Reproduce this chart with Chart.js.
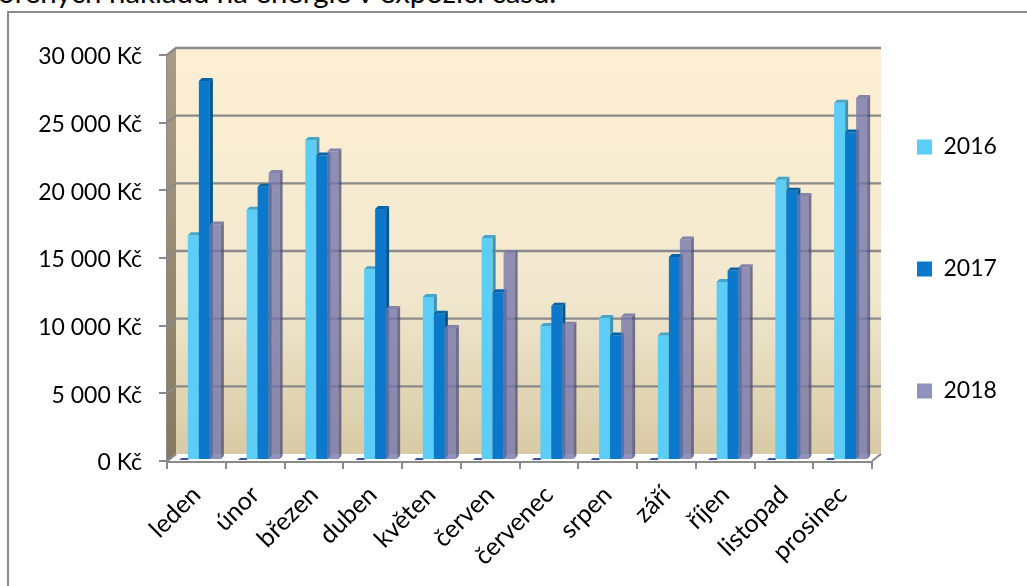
<!DOCTYPE html>
<html lang="cs">
<head>
<meta charset="utf-8">
<title>Náklady na energie</title>
<script src="https://cdn.jsdelivr.net/npm/chart.js@4/dist/chart.umd.min.js"></script>
<style>
    html, body { margin: 0; padding: 0; width: 1027px; height: 586px; overflow: hidden; background: #fff; }
    #nadpis { position: absolute; left: -2px; top: -26px; font: 29.4px Lato, sans-serif; color: #000; white-space: nowrap; }
    #ramecek { position: absolute; left: 7px; top: 11px; width: 1100px; height: 700px; border: 2px solid #8a8a8a; }
    #graf { position: absolute; left: 0; top: 0; }
</style>
</head>
<body>
<div id="nadpis">ořených nákladů na energie v expozici času.</div>
<div id="ramecek"></div>
<canvas id="graf" width="1027" height="586"></canvas>
<script>
const mesice = ["leden","únor","březen","duben","květen","červen","červenec","srpen","září","říjen","listopad","prosinec"];
const roky = ["2016","2017","2018"];
const naklady2016 = [16600,18500,23650,14100,12050,16400,9900,10500,9200,13150,20700,26400];
const naklady2017 = [28000,20200,22500,18550,10800,12400,11400,9200,15000,14000,19900,24200];
const naklady2018 = [17400,21200,22800,11150,9750,15300,10000,10600,16300,14250,19500,26750];
const barvy = ["#5ccdf6","#0b78cc","rgba(118,119,171,0.8)"];
const barvyBok = ["#3f92b4","#00578f","rgba(72,74,120,0.75)"];
const barvyVrch = ["#46a5c8","#0563a6","rgba(120,120,165,0.9)"];

const HLOUBKA_X = 9, HLOUBKA_Y = 7;   // posun zadni steny
const BAR_X = 8, BAR_Y = -1;          // sloupce stoji uprostred hloubky
const BOK = 3;
const SEDA = "#8a8a8a";

function polygon(ctx, body, barva) {
    ctx.beginPath();
    body.forEach((b, i) => i ? ctx.lineTo(b[0], b[1]) : ctx.moveTo(b[0], b[1]));
    ctx.closePath();
    ctx.fillStyle = barva;
    ctx.fill();
}

const prostor3d = {
    id: "prostor3d",
    afterLayout(chart) {
        // legenda ma velky rozestup, posunout ji na misto
        const l = chart.legend;
        l.left = 917 - l.options.labels.padding;
        l.top -= 103;
    },
    beforeDatasetsDraw(chart) {
        const {ctx, chartArea: a, scales} = chart;
        const dx = HLOUBKA_X, dy = HLOUBKA_Y;

        // zadni stena
        const g = ctx.createLinearGradient(0, a.top - dy, 0, a.bottom - dy);
        g.addColorStop(0, "#feefd3");
        g.addColorStop(0.6, "#f1e8cf");
        g.addColorStop(1, "#d8caa5");
        ctx.fillStyle = g;
        ctx.fillRect(a.left + dx, a.top - dy, a.right - a.left, a.bottom - a.top);

        // leva stena
        const g2 = ctx.createLinearGradient(0, a.top, 0, a.bottom);
        g2.addColorStop(0, "#a89c85");
        g2.addColorStop(1, "#857a5f");
        polygon(ctx, [[a.left, a.top], [a.left + dx, a.top - dy], [a.left + dx, a.bottom - dy], [a.left, a.bottom]], g2);

        // podlaha
        polygon(ctx, [[a.left, a.bottom], [a.left + dx, a.bottom - dy], [a.right + dx, a.bottom - dy], [a.right, a.bottom]], "#ffffff");

        // mrizka na stene
        ctx.strokeStyle = SEDA;
        ctx.lineWidth = 2.4;
        scales.y.ticks.forEach(t => {
            const y = scales.y.getPixelForValue(t.value);
            ctx.beginPath();
            ctx.moveTo(a.left, y);
            ctx.lineTo(a.left + dx, y - dy);
            if (t.value > 0) ctx.lineTo(a.right + dx, y - dy);
            ctx.stroke();
        });
        ctx.lineWidth = 2;
        ctx.beginPath();
        ctx.moveTo(a.right, a.bottom);
        ctx.lineTo(a.right + dx, a.bottom - dy);
        ctx.stroke();

        // tmave carky u paty kazde skupiny
        mesice.forEach((m, i) => {
            const x = scales.x.getPixelForValue(i);
            polygon(ctx, [[x - 17, a.bottom - 1], [x - 15, a.bottom - 3], [x - 8, a.bottom - 3], [x - 8, a.bottom - 1]], "#3d4fa3");
        });
    },
    // sloupce se kresli az v afterDatasetsDraw, 2016 musi byt vespod
    beforeDatasetDraw() {
        return false;
    },
    afterDatasetsDraw(chart) {
        const {ctx} = chart;
        ctx.save();
        ctx.translate(BAR_X, BAR_Y);
        chart.getSortedVisibleDatasetMetas().forEach(meta => {
            meta.controller.draw();
            meta.data.forEach(bar => {
                const l = bar.x - bar.width / 2, r = bar.x + bar.width / 2;
                polygon(ctx, [[r, bar.y], [r + BOK, bar.y - BOK], [r + BOK, bar.base - BOK], [r, bar.base]], barvyBok[meta.index]);
                polygon(ctx, [[l, bar.y], [l + BOK, bar.y - BOK], [r + BOK, bar.y - BOK], [r, bar.y]], barvyVrch[meta.index]);
            });
        });
        ctx.restore();
    }
};

new Chart(document.getElementById("graf").getContext("2d"), {
    type: "bar",
    data: {
        labels: mesice,
        datasets: [
            {label: roky[0], data: naklady2016, backgroundColor: barvy[0]},
            {label: roky[1], data: naklady2017, backgroundColor: barvy[1]},
            {label: roky[2], data: naklady2018, backgroundColor: barvy[2]}
        ]
    },
    options: {
        responsive: false,
        animation: false,
        layout: {padding: {top: 55, bottom: 0, left: 0, right: 0}},
        datasets: {bar: {categoryPercentage: 0.562, barPercentage: 1}},
        scales: {
            x: {
                afterFit: s => { s.height = 125; },
                grid: {offset: true, drawOnChartArea: false, color: SEDA, lineWidth: 2, tickLength: 8},
                border: {color: SEDA, width: 3},
                ticks: {
                    color: "#000",
                    font: {family: "Lato", size: 25},
                    minRotation: 45,
                    maxRotation: 45,
                    autoSkip: false,
                    padding: 11
                }
            },
            y: {
                min: 0,
                max: 30000,
                afterFit: s => { s.width = 167; },
                grid: {drawOnChartArea: false, color: SEDA, lineWidth: 2, tickLength: 8},
                border: {color: SEDA, width: 2},
                ticks: {
                    stepSize: 5000,
                    color: "#000",
                    font: {family: "Lato", size: 23},
                    padding: 17,
                    labelOffset: 2,
                    callback: v => String(v).replace(/\B(?=(\d{3})+$)/g, " ") + " Kč"
                }
            }
        },
        plugins: {
            title: {display: false},
            tooltip: {enabled: false},
            legend: {
                position: "right",
                maxWidth: 155,
                labels: {
                    color: "#000",
                    boxWidth: 15,
                    boxHeight: 15,
                    padding: 99,
                    font: {family: "Lato", size: 23}
                }
            }
        }
    },
    plugins: [prostor3d]
});
</script>
</body>
</html>
